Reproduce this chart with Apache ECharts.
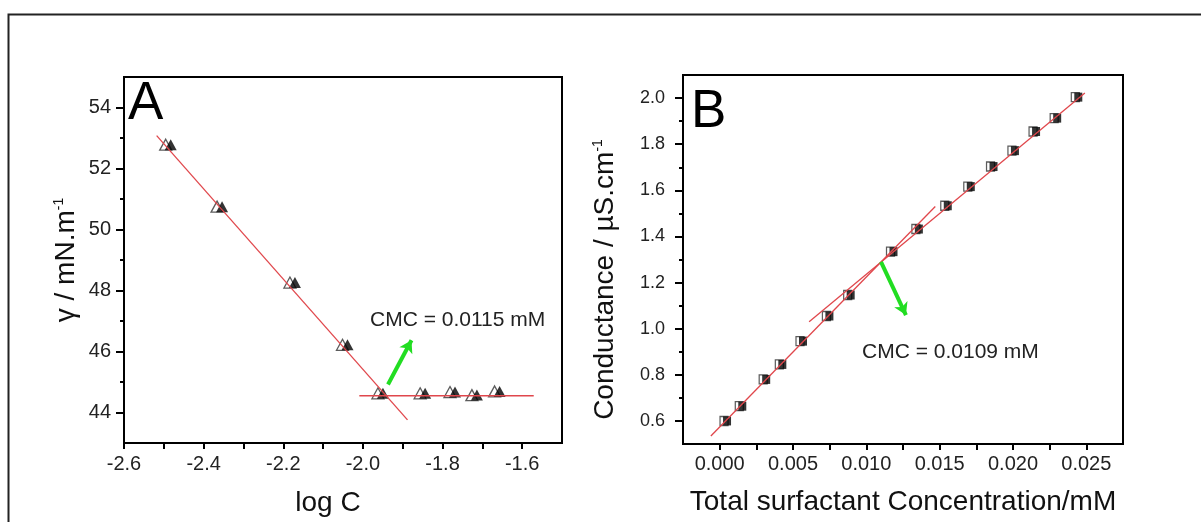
<!DOCTYPE html>
<html lang="en">
<head>
    <meta charset="UTF-8">
    <title>CMC plots</title>
    <script type="text/javascript" src="https://cdn.jsdelivr.net/npm/echarts@6/dist/echarts.min.js"></script>
    <style>
      html, body { margin: 0; padding: 0; background: #fff; }
    </style>
</head>
<body>
<div id="main" style="width: 1201px;height:522px;"></div>
<script type="text/javascript">
// panel A : surface tension vs log C
var aLogC  = [-2.489, -2.360, -2.177, -2.045, -1.956, -1.850, -1.775, -1.720, -1.663];
var aGamma = [52.78, 50.75, 48.26, 46.22, 44.63, 44.63, 44.67, 44.57, 44.69];
var aFitSteep = [[-2.518, 53.08], [-1.888, 43.76]];
var aFitFlat  = [[-2.009, 44.55], [-1.571, 44.55]];
var aArrow    = [[-1.937, 44.92], [-1.878, 46.37]];
var aXTicks = [-2.6, -2.4, -2.2, -2.0, -1.8, -1.6];
var aXMinor = [-2.5, -2.3, -2.1, -1.9, -1.7];
var aYTicks = [44, 46, 48, 50, 52, 54];
var aYMinor = [45, 47, 49, 51, 53];

// panel B : conductance vs concentration
var bConc = [0.0004, 0.00144, 0.00307, 0.00417, 0.00558, 0.00738, 0.00883, 0.01175,
             0.01348, 0.01545, 0.01702, 0.01857, 0.02003, 0.02147, 0.02291, 0.02435];
var bCond = [0.600, 0.664, 0.780, 0.845, 0.946, 1.055, 1.146, 1.334,
             1.432, 1.533, 1.616, 1.703, 1.772, 1.855, 1.913, 2.004];
var bFitPre  = [[-0.0006, 0.535], [0.0147, 1.53]];
var bFitPost = [[0.0061, 1.03], [0.0249, 2.022]];
var bArrow   = [[0.0110, 1.29], [0.0127, 1.059]];
var bXTicks = [0, 0.005, 0.010, 0.015, 0.020, 0.025];
var bXMinor = [0.0025, 0.0075, 0.0125, 0.0175, 0.0225];
var bYTicks = [0.6, 0.8, 1.0, 1.2, 1.4, 1.6, 1.8, 2.0];
var bYMinor = [0.7, 0.9, 1.1, 1.3, 1.5, 1.7, 1.9];

var FONT = '"Liberation Sans", Arial, Helvetica, sans-serif';
var RED = '#e0474c';
var GREEN = '#22dd22';

function pairs(xs, ys) {
  var out = [];
  for (var i = 0; i < xs.length; i++) out.push([xs[i], ys[i]]);
  return out;
}
function sorted(a, b) {
  return a.concat(b).sort(function (p, q) { return p - q; });
}

// axis with labels; tickVals may hold the minor positions too
function majorAxis(grid, min, max, ticks, tickVals, tickLen, fmt, lblSize, margin, name, nameOpt) {
  var ax = {
    gridIndex: grid, type: 'value', min: min, max: max,
    axisLine: { show: true, onZero: false, lineStyle: { color: '#000', width: 2 } },
    axisTick: { show: true, customValues: tickVals, length: tickLen, lineStyle: { color: '#000', width: 2 } },
    axisLabel: { customValues: ticks, formatter: fmt, color: '#222', fontSize: lblSize, fontFamily: FONT, margin: margin },
    splitLine: { show: false },
    name: name, nameLocation: 'middle'
  };
  for (var k in nameOpt) ax[k] = nameOpt[k];
  return ax;
}
// bare axis carrying only the short ticks
function minorAxis(grid, min, max, ticks, pos) {
  return {
    gridIndex: grid, type: 'value', min: min, max: max, position: pos, offset: 0,
    axisLine: { show: true, onZero: false, lineStyle: { color: '#000', width: 2 } },
    axisTick: { show: true, customValues: ticks, length: 4, lineStyle: { color: '#000', width: 2 } },
    axisLabel: { show: false },
    splitLine: { show: false }
  };
}

var nameStyle = {
  fontSize: 28, color: '#111', fontFamily: FONT,
  rich: { sup: { fontSize: 14, verticalAlign: 'top', color: '#111', fontFamily: FONT } }
};

function markers(xi, yi, pts, shape, size, off) {
  return [{
    type: 'scatter', xAxisIndex: xi, yAxisIndex: yi, data: pts, z: 2,
    symbol: shape, symbolSize: size, symbolOffset: [-off, 0],
    itemStyle: { color: '#fff', borderColor: '#333', borderWidth: 1.3 }
  }, {
    type: 'scatter', xAxisIndex: xi, yAxisIndex: yi, data: pts, z: 2,
    symbol: shape, symbolSize: size, symbolOffset: [off, 0],
    itemStyle: { color: '#000' }
  }];
}
function fitLine(xi, yi, pts, arrow) {
  var s = {
    type: 'line', xAxisIndex: xi, yAxisIndex: yi, data: pts, z: 3,
    symbol: 'none', lineStyle: { color: RED, width: 1.3 }
  };
  if (arrow) {
    s.markLine = {
      silent: true, symbol: ['none', 'arrow'], symbolSize: [11, 12],
      label: { show: false },
      lineStyle: { color: GREEN, width: 4, type: 'solid' },
      data: [[{ coord: arrow[0] }, { coord: arrow[1] }]]
    };
  }
  return s;
}

var myChart = echarts.init(document.getElementById('main'));
myChart.setOption({
  animation: false,
  textStyle: { fontFamily: FONT },
  grid: [
    { left: 124, top: 77, width: 438, height: 366, show: true, borderColor: '#000', borderWidth: 2 },
    { left: 683, top: 75, width: 440, height: 369, show: true, borderColor: '#000', borderWidth: 2 }
  ],
  xAxis: [
    majorAxis(0, -2.6, -1.5, aXTicks, sorted(aXTicks, aXMinor), 6, function (v) { return v.toFixed(1); }, 20, 11, 'log C',
      { position: 'bottom', nameGap: 46, nameTextStyle: { fontSize: 28, color: '#111', fontFamily: FONT, padding: [0, 30, 0, 0] } }),
    majorAxis(1, -0.0025, 0.0275, bXTicks, sorted(bXTicks, bXMinor), 6, function (v) { return v.toFixed(3); }, 20, 10, 'Total surfactant Concentration/mM',
      { position: 'bottom', nameGap: 44, nameTextStyle: { fontSize: 28, color: '#111', fontFamily: FONT } })
  ],
  yAxis: [
    majorAxis(0, 43, 55, aYTicks, aYTicks, 8, function (v) { return String(v); }, 20, 13, 'γ / mN.m{sup|-1}',
      { position: 'left', nameGap: 44, nameTextStyle: nameStyle }),
    minorAxis(0, 43, 55, aYMinor, 'left'),
    majorAxis(1, 0.5, 2.1, bYTicks, bYTicks, 8, function (v) { return v.toFixed(1); }, 18, 18, 'Conductance / µS.cm{sup|-1}',
      { position: 'left', nameGap: 64, nameTextStyle: {
          fontSize: 28, color: '#111', fontFamily: FONT, padding: [0, 40, 0, 0],
          rich: nameStyle.rich } }),
    minorAxis(1, 0.5, 2.1, bYMinor, 'left')
  ],
  graphic: [
    { type: 'polyline', shape: { points: [[8.5, 522], [8.5, 14.5], [1201, 14.5]] },
      style: { stroke: '#222', lineWidth: 2, fill: null }, silent: true },
    { type: 'text', x: 128, y: 104, style: { text: 'A', font: '53px ' + FONT, fill: '#000', textVerticalAlign: 'middle' } },
    { type: 'text', x: 691, y: 112, style: { text: 'B', font: '53px ' + FONT, fill: '#000', textVerticalAlign: 'middle' } },
    { type: 'text', x: 370, y: 320, style: { text: 'CMC = 0.0115 mM', font: '21px ' + FONT, fill: '#222', textVerticalAlign: 'middle' } },
    { type: 'text', x: 862, y: 352, style: { text: 'CMC = 0.0109 mM', font: '21px ' + FONT, fill: '#222', textVerticalAlign: 'middle' } }
  ],
  series: [].concat(
    markers(0, 0, pairs(aLogC, aGamma), 'triangle', [12, 11], 2.5),
    [fitLine(0, 0, aFitSteep, aArrow), fitLine(0, 0, aFitFlat)],
    markers(1, 2, pairs(bConc, bCond), 'rect', [8, 9], 1.5),
    [fitLine(1, 2, bFitPre, bArrow), fitLine(1, 2, bFitPost)]
  )
});
</script>
</body>
</html>
